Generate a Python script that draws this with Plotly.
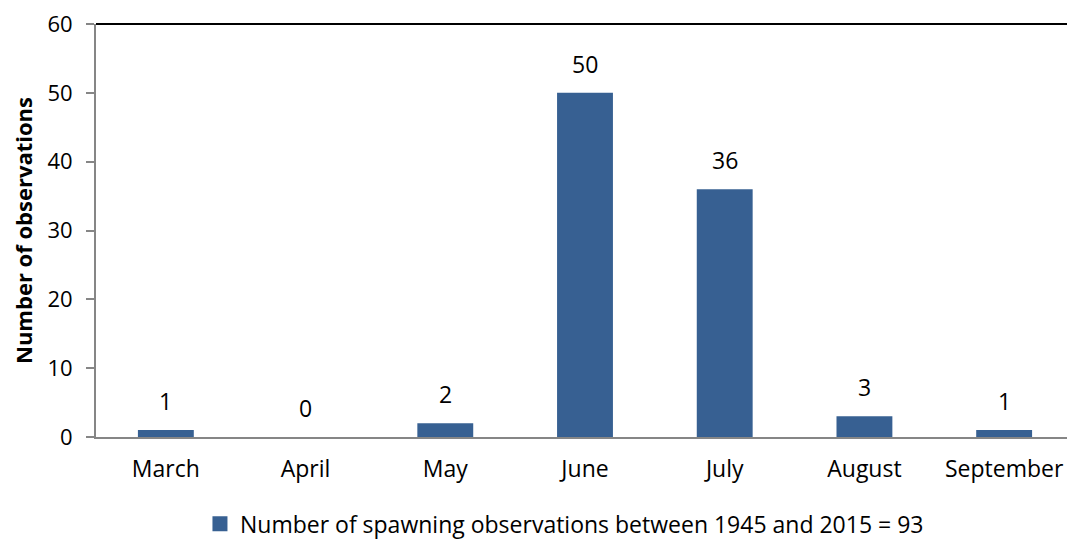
import plotly.graph_objects as go

months = ["March", "April", "May", "June", "July", "August", "September"]
observations = [1, 0, 2, 50, 36, 3, 1]
series_name = "Number of spawning observations between 1945 and 2015 = 93"
y_ticks = [0, 10, 20, 30, 40, 50, 60]

FONT = "Open Sans"
BAR = "#376092"
GRAY = "#868686"

fig = go.Figure()
fig.add_trace(go.Bar(
    x=months, y=observations, name=series_name,
    marker=dict(color=BAR, line=dict(width=0)),
    width=0.4, showlegend=False,
))
# legend proxy with a square swatch
fig.add_trace(go.Scatter(
    x=[None], y=[None], mode="markers", name=series_name,
    marker=dict(symbol="square", size=15, color=BAR), showlegend=True,
))

for m, v in zip(months, observations):
    fig.add_annotation(x=m, y=v, text=str(v), showarrow=False,
                       yanchor="bottom", yshift=11,
                       font=dict(family=FONT, size=23, color="#000000"))

fig.update_layout(
    width=1067, height=532,
    margin=dict(l=88, r=1, t=16, b=103, autoexpand=False),
    plot_bgcolor="white", paper_bgcolor="white",
    font=dict(family=FONT, size=23, color="#000000"),
    showlegend=True,
    legend=dict(orientation="h", x=0.479, xanchor="center", y=-0.158, yanchor="top",
                itemsizing="trace",
                font=dict(family=FONT, size=23, color="#000000")),
    xaxis=dict(showline=True, linecolor=GRAY, linewidth=2, ticks="",
               showgrid=False, ticklabelstandoff=10, automargin=False,
               tickfont=dict(family=FONT, size=23)),
    yaxis=dict(range=[0, 60], tickvals=y_ticks, showline=True, linecolor=GRAY, linewidth=2,
               ticks="outside", ticklen=8, tickcolor=GRAY, tickwidth=2, showgrid=False,
               zeroline=False, ticklabelstandoff=9, automargin=False,
               ticklabeloverflow="allow",
               tickfont=dict(family=FONT, size=22),
               title=dict(text="<b>Number of observations</b>", standoff=17,
                          font=dict(family=FONT, size=22))),
    shapes=[
        dict(type="line", xref="paper", yref="paper", x0=0, x1=1, y0=1, y1=1,
             line=dict(color="black", width=2)),
        dict(type="line", xref="paper", yref="paper", x0=1, x1=1, y0=0, y1=1,
             line=dict(color="black", width=2)),
    ],
)

fig.write_html("out.html")
